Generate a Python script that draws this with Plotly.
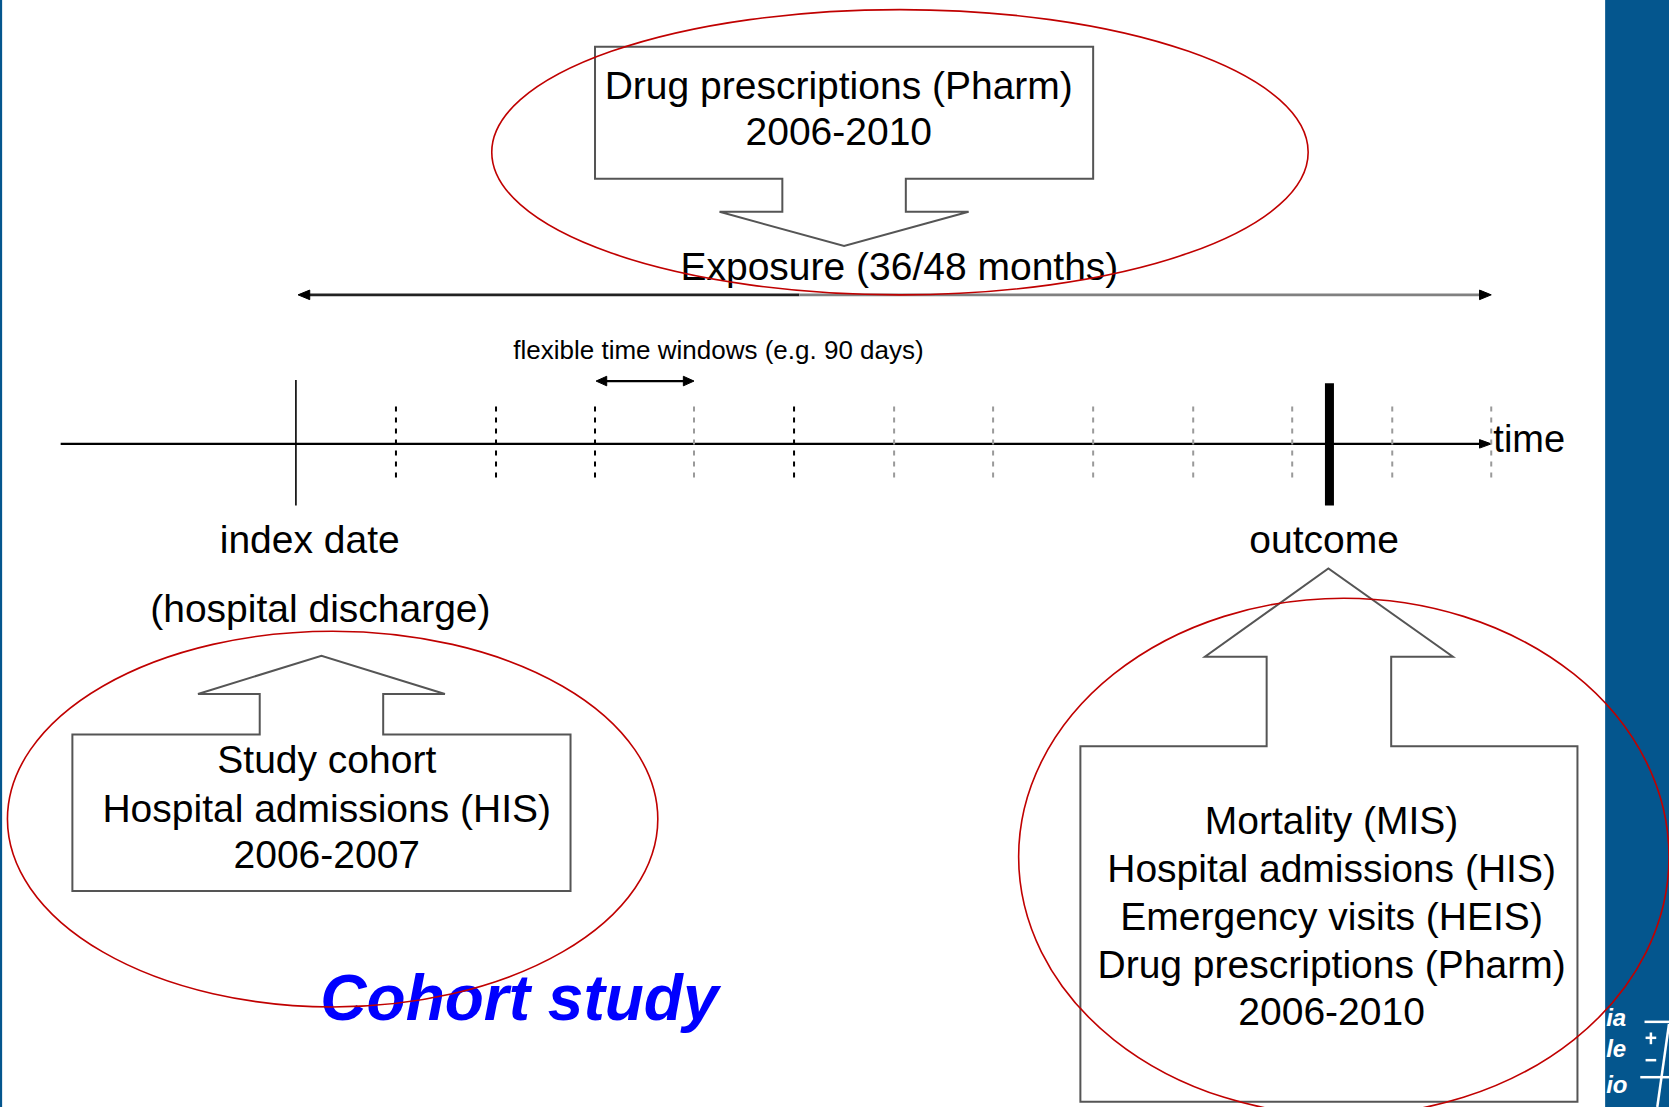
import plotly.graph_objects as go

# ---------------- content (labels) ----------------
TOP_BOX_LINES = ["Drug prescriptions (Pharm)", "2006-2010"]
COHORT_BOX_LINES = ["Study cohort", "Hospital admissions (HIS)", "2006-2007"]
OUTCOME_BOX_LINES = ["Mortality (MIS)", "Hospital admissions (HIS)", "Emergency visits (HEIS)",
                     "Drug prescriptions (Pharm)", "2006-2010"]
AXIS_LABELS = ["index date", "(hospital discharge)", "outcome"]
EXPOSURE_LABEL = "Exposure (36/48 months)"
WINDOW_LABEL = "flexible time windows (e.g. 90 days)"
TIME_LABEL = "time"
TITLE_LABEL = "Cohort study"
LOGO_LABELS = ["ia", "le", "io"]

# ---------------- layout geometry (diagram coordinates) ----------------
W_UNITS, H_UNITS = 1568, 1040
TIMELINE_Y = 417
TIMELINE_X = [57, 1401]
INDEX_X = 278
OUTCOME_X = 1249
WINDOW_X = [372, 466, 559, 652, 746, 840, 933, 1027, 1121, 1214, 1308, 1401]
WINDOW_DARK = [True, True, True, False, True, False, False, False, False, False, False, False]
EXPOSURE_Y = 277
EXPOSURE_X = [280, 751, 1401]
SMALL_ARROW_X = [560, 652]
SMALL_ARROW_Y = 358

TOP_LINE_Y = [83.5, 127.5]
COHORT_LINE_Y = [717.5, 763.5, 806.5]
OUTCOME_LINE_Y = [774.5, 819.5, 864.5, 909.5, 953.5]
AXIS_LABEL_XY = [(291, 510.5), (301, 575.5), (1244, 510.5)]
LOGO_Y = [958, 987, 1021]

FONT = "Arial, 'Liberation Sans', sans-serif"
BLUE = "#04568E"
RED = "#C00000"
BOXLINE = "#555555"

fig = go.Figure()
shapes = []

# blue side panels
shapes.append(dict(type="rect", x0=1508, x1=W_UNITS, y0=0, y1=H_UNITS, fillcolor=BLUE,
                   line=dict(width=0), layer="below"))
shapes.append(dict(type="rect", x0=0, x1=2, y0=0, y1=H_UNITS, fillcolor=BLUE,
                   line=dict(width=0), layer="below"))

# callout boxes (box + block arrow)
top_path = "M559,44 L1027,44 L1027,168 L851,168 L851,199 L910,199 L793,231 L676,199 L735,199 L735,168 L559,168 Z"
left_path = "M68,690 L244,690 L244,652 L186,652 L302,616 L418,652 L360,652 L360,690 L536,690 L536,837 L68,837 Z"
right_path = "M1015,701 L1190,701 L1190,617 L1132,617 L1248,534 L1365,617 L1307,617 L1307,701 L1482,701 L1482,1035 L1015,1035 Z"
for p in (top_path, left_path, right_path):
    shapes.append(dict(type="path", path=p, fillcolor="white",
                       line=dict(color=BOXLINE, width=2), layer="below"))

# time axis
shapes.append(dict(type="line", x0=TIMELINE_X[0], x1=TIMELINE_X[1] - 9, y0=TIMELINE_Y, y1=TIMELINE_Y,
                   line=dict(color="black", width=2.2), layer="below"))
tx = TIMELINE_X[1]
shapes.append(dict(type="path", path=f"M{tx},{TIMELINE_Y} L{tx-11},{TIMELINE_Y-4} L{tx-11},{TIMELINE_Y+4} Z",
                   fillcolor="black", line=dict(color="black", width=1), layer="below"))

# window dashed lines
for x, dark in zip(WINDOW_X, WINDOW_DARK):
    shapes.append(dict(type="line", x0=x, x1=x, y0=382, y1=453,
                       line=dict(color="black" if dark else "#9a9a9a", width=2, dash="5px,6px"),
                       layer="below"))

# index date line and outcome bar
shapes.append(dict(type="line", x0=INDEX_X, x1=INDEX_X, y0=357, y1=475,
                   line=dict(color="black", width=1.6), layer="below"))
shapes.append(dict(type="line", x0=OUTCOME_X, x1=OUTCOME_X, y0=360, y1=475,
                   line=dict(color="black", width=9), layer="below"))

# exposure arrow
shapes.append(dict(type="line", x0=EXPOSURE_X[0] + 8, x1=EXPOSURE_X[1], y0=EXPOSURE_Y, y1=EXPOSURE_Y,
                   line=dict(color="#222222", width=2.8), layer="below"))
shapes.append(dict(type="line", x0=EXPOSURE_X[1], x1=EXPOSURE_X[2] - 8, y0=EXPOSURE_Y, y1=EXPOSURE_Y,
                   line=dict(color="#808080", width=2.8), layer="below"))
ex0, ex1 = EXPOSURE_X[0], EXPOSURE_X[2]
shapes.append(dict(type="path", path=f"M{ex0},{EXPOSURE_Y} L{ex0+11},{EXPOSURE_Y-4.5} L{ex0+11},{EXPOSURE_Y+4.5} Z",
                   fillcolor="black", line=dict(color="black", width=1), layer="below"))
shapes.append(dict(type="path", path=f"M{ex1},{EXPOSURE_Y} L{ex1-11},{EXPOSURE_Y-4.5} L{ex1-11},{EXPOSURE_Y+4.5} Z",
                   fillcolor="black", line=dict(color="black", width=1), layer="below"))

# small double arrow (time window)
sa0, sa1 = SMALL_ARROW_X
shapes.append(dict(type="line", x0=sa0 + 6, x1=sa1 - 6, y0=SMALL_ARROW_Y, y1=SMALL_ARROW_Y,
                   line=dict(color="black", width=2.2), layer="below"))
shapes.append(dict(type="path", path=f"M{sa0},{SMALL_ARROW_Y} L{sa0+10},{SMALL_ARROW_Y-4.5} L{sa0+10},{SMALL_ARROW_Y+4.5} Z",
                   fillcolor="black", line=dict(color="black", width=1), layer="below"))
shapes.append(dict(type="path", path=f"M{sa1},{SMALL_ARROW_Y} L{sa1-10},{SMALL_ARROW_Y-4.5} L{sa1-10},{SMALL_ARROW_Y+4.5} Z",
                   fillcolor="black", line=dict(color="black", width=1), layer="below"))

# logo symbol strokes (white)
for (x0, y0, x1, y1) in [(1545, 960, 1568, 960), (1541, 1012, 1568, 1012),
                         (1568, 962, 1557, 1040), (1546, 975, 1556, 975), (1551, 970, 1551, 981),
                         (1546, 996, 1556, 996)]:
    shapes.append(dict(type="line", x0=x0, x1=x1, y0=y0, y1=y1,
                       line=dict(color="white", width=2.5), layer="below"))

# red ellipses (on top)
for (x0, x1, y0, y1) in [(462, 1229, 9, 277), (7, 618, 593, 946), (957, 1568, 562, 1048)]:
    shapes.append(dict(type="circle", x0=x0, x1=x1, y0=y0, y1=y1,
                       line=dict(color=RED, width=1.6), layer="above"))

# ---------------- texts ----------------
def add_text(xs, ys, texts, size, color="black", weight="normal", style="normal", pos="middle center"):
    fig.add_trace(go.Scatter(x=xs, y=ys, text=texts, mode="text", textposition=pos,
                             textfont=dict(family=FONT, size=size, color=color, weight=weight, style=style),
                             hoverinfo="skip", showlegend=False, cliponaxis=False))

add_text([788] * len(TOP_BOX_LINES), TOP_LINE_Y, TOP_BOX_LINES, 39)
add_text([307] * len(COHORT_BOX_LINES), COHORT_LINE_Y, COHORT_BOX_LINES, 39)
add_text([1251] * len(OUTCOME_BOX_LINES), OUTCOME_LINE_Y, OUTCOME_BOX_LINES, 39)
add_text([p[0] for p in AXIS_LABEL_XY], [p[1] for p in AXIS_LABEL_XY], AXIS_LABELS, 39)
add_text([845], [253.5], [EXPOSURE_LABEL], 39)
add_text([675], [331], [WINDOW_LABEL], 26)
add_text([1403], [416], [TIME_LABEL], 38, pos="middle right")
add_text([488], [943], [TITLE_LABEL], 64, color="#0000FF", weight="bold", style="italic")
add_text([1509] * len(LOGO_LABELS), LOGO_Y, LOGO_LABELS, 24, color="white", weight="bold",
         style="italic", pos="middle right")

fig.update_layout(
    width=1669, height=1107,
    margin=dict(l=0, r=0, t=0, b=0, pad=0),
    paper_bgcolor="white", plot_bgcolor="white",
    xaxis=dict(range=[0, W_UNITS], visible=False, fixedrange=True),
    yaxis=dict(range=[H_UNITS, 0], visible=False, fixedrange=True),
    shapes=shapes,
    showlegend=False,
)

fig.write_html("out.html", config={"displayModeBar": False},
               post_script="document.body.style.margin='0';")
